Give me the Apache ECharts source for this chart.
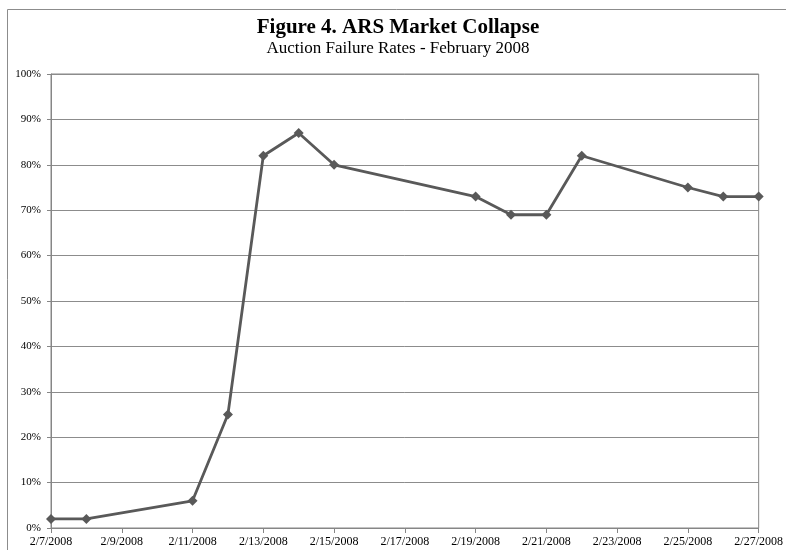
<!DOCTYPE html>
<html>
<head>
<meta charset="utf-8">
<script src="https://cdn.jsdelivr.net/npm/echarts@6/dist/echarts.min.js"></script>
<style>html,body{margin:0;padding:0;background:#fff}#c{width:786px;height:550px}</style>
</head>
<body>
<div id="c"></div>
<script>
var titleText = 'Figure 4. ARS Market Collapse';
var subtitleText = 'Auction Failure Rates - February 2008';
var dates = ['2008-02-07','2008-02-08','2008-02-11','2008-02-12','2008-02-13','2008-02-14','2008-02-15','2008-02-19','2008-02-20','2008-02-21','2008-02-22','2008-02-25','2008-02-26','2008-02-27'];
var failureRates = [2, 2, 6, 25, 82, 87, 80, 73, 69, 69, 82, 75, 73, 73];
var startDate = '2008-02-07';
var endDate = '2008-02-27';

var DAY = 86400000;
var t0 = Date.parse(startDate + 'T00:00:00Z');
function dayOffset(s){ return Math.round((Date.parse(s + 'T00:00:00Z') - t0) / DAY); }
var seriesData = dates.map(function(d, i){ return [dayOffset(d), failureRates[i]]; });
var maxDay = dayOffset(endDate);
function fmtDay(v){
  var d = new Date(t0 + v * DAY);
  return (d.getUTCMonth() + 1) + '/' + d.getUTCDate() + '/' + d.getUTCFullYear();
}

var chart = echarts.init(document.getElementById('c'), null, {renderer: 'canvas'});
var serif = '"Liberation Serif", "Times New Roman", serif';
chart.setOption({
  animation: false,
  backgroundColor: '#ffffff',
  graphic: [
    {type: 'line', shape: {x1: 7.5, y1: 9.5, x2: 786, y2: 9.5}, style: {stroke: '#8c8c8c', lineWidth: 1}},
    {type: 'line', shape: {x1: 7.5, y1: 9.5, x2: 7.5, y2: 550}, style: {stroke: '#8c8c8c', lineWidth: 1}},
    {type: 'text', x: 398, y: 28, style: {text: titleText, font: 'bold 21px ' + serif, fill: '#000', textAlign: 'center', textVerticalAlign: 'middle'}},
    {type: 'text', x: 398, y: 49, style: {text: subtitleText, font: '17px ' + serif, fill: '#000', textAlign: 'center', textVerticalAlign: 'middle'}}
  ],
  grid: {left: 51, right: 26, top: 74, bottom: 22, show: true, borderColor: '#868686', borderWidth: 1, containLabel: false},
  xAxis: {
    type: 'value', min: 0, max: maxDay, interval: 2,
    axisLine: {show: true, lineStyle: {color: '#868686', width: 1}},
    axisTick: {show: true, length: 5, lineStyle: {color: '#868686'}},
    splitLine: {show: false},
    axisLabel: {formatter: fmtDay, fontFamily: serif, fontSize: 12, color: '#000', margin: 8}
  },
  yAxis: {
    type: 'value', min: 0, max: 100, interval: 10,
    axisLine: {show: true, lineStyle: {color: '#868686', width: 1}},
    axisTick: {show: true, length: 4, lineStyle: {color: '#868686'}},
    splitLine: {show: true, lineStyle: {color: '#8c8c8c', width: 1}},
    axisLabel: {formatter: '{value}%', fontFamily: serif, fontSize: 11, color: '#000', margin: 10}
  },
  series: [{
    type: 'line',
    data: seriesData,
    symbol: 'diamond',
    symbolSize: 10,
    lineStyle: {color: '#595959', width: 2.8},
    itemStyle: {color: '#595959'}
  }]
});
</script>
</body>
</html>
